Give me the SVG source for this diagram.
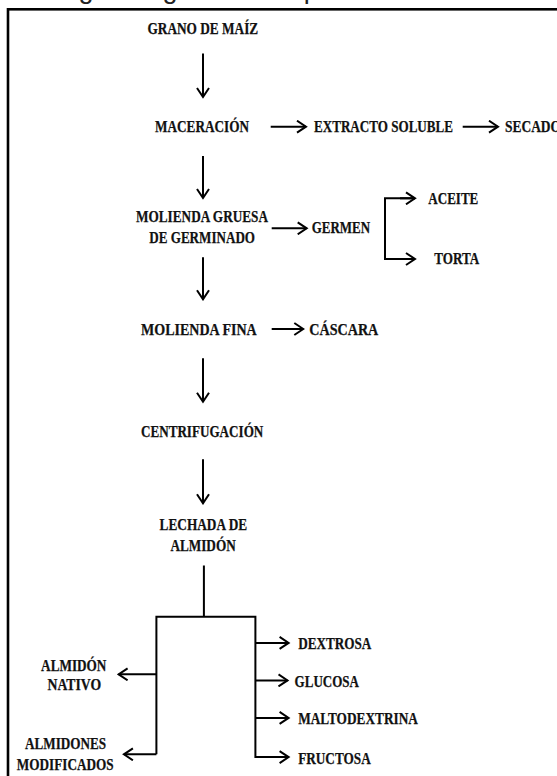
<svg xmlns="http://www.w3.org/2000/svg" width="557" height="776" viewBox="0 0 557 776">
<style>
.t{font-family:"Liberation Serif","Times New Roman",serif;font-weight:bold;font-size:16.5px;fill:#111;stroke:#111;stroke-width:0.25;}
.ttl{font-family:"Liberation Sans",Arial,sans-serif;font-size:27px;fill:#222;}
.c{stroke:#000;stroke-width:2;fill:none;}
.a{stroke:#000;stroke-width:2;fill:none;marker-end:url(#ah);}
</style>
<defs>
<marker id="ah" markerUnits="userSpaceOnUse" viewBox="0 0 12 14" markerWidth="12" markerHeight="14" refX="10" refY="7" orient="auto">
<path d="M1,1 L10,7 L1,13" fill="none" stroke="#000" stroke-width="2"/>
</marker>
</defs>
<rect width="557" height="776" fill="#fff"/>
<text class="ttl" x="38" y="-2">Diagrama general del proceso de molienda</text>
<rect x="8" y="9.3" width="600" height="800" fill="none" stroke="#000" stroke-width="2.6"/>

<g id="n-grano"><text class="t" x="147.5" y="33.5" textLength="110.7" lengthAdjust="spacingAndGlyphs">GRANO DE MAÍZ</text></g>
<g id="n-maceracion"><text class="t" x="155" y="131.5" textLength="94" lengthAdjust="spacingAndGlyphs">MACERACIÓN</text></g>
<g id="n-extracto"><text class="t" x="314" y="131.5" textLength="139" lengthAdjust="spacingAndGlyphs">EXTRACTO SOLUBLE</text></g>
<g id="n-secado"><text class="t" x="505" y="131.5" textLength="56" lengthAdjust="spacingAndGlyphs">SECADO</text></g>
<g id="n-molgruesa"><text class="t" x="136" y="222.3" textLength="132" lengthAdjust="spacingAndGlyphs">MOLIENDA GRUESA</text><text class="t" x="149.3" y="243.3" textLength="105.7" lengthAdjust="spacingAndGlyphs">DE GERMINADO</text></g>
<g id="n-germen"><text class="t" x="311.7" y="233.3" textLength="58.3" lengthAdjust="spacingAndGlyphs">GERMEN</text></g>
<g id="n-aceite"><text class="t" x="428.3" y="204" textLength="50" lengthAdjust="spacingAndGlyphs">ACEITE</text></g>
<g id="n-torta"><text class="t" x="434.3" y="264" textLength="45" lengthAdjust="spacingAndGlyphs">TORTA</text></g>
<g id="n-molfina"><text class="t" x="141" y="335" textLength="115.7" lengthAdjust="spacingAndGlyphs">MOLIENDA FINA</text></g>
<g id="n-cascara"><text class="t" x="309.3" y="335" textLength="69" lengthAdjust="spacingAndGlyphs">CÁSCARA</text></g>
<g id="n-centrif"><text class="t" x="141" y="436.7" textLength="122.3" lengthAdjust="spacingAndGlyphs">CENTRIFUGACIÓN</text></g>
<g id="n-lechada"><text class="t" x="159.6" y="530.4" textLength="87.5" lengthAdjust="spacingAndGlyphs">LECHADA DE</text><text class="t" x="170.4" y="550.7" textLength="65.3" lengthAdjust="spacingAndGlyphs">ALMIDÓN</text></g>
<g id="n-dextrosa"><text class="t" x="298.2" y="649.3" textLength="73.2" lengthAdjust="spacingAndGlyphs">DEXTROSA</text></g>
<g id="n-glucosa"><text class="t" x="294.6" y="686.8" textLength="64.3" lengthAdjust="spacingAndGlyphs">GLUCOSA</text></g>
<g id="n-malto"><text class="t" x="298.2" y="724.3" textLength="119.7" lengthAdjust="spacingAndGlyphs">MALTODEXTRINA</text></g>
<g id="n-fructosa"><text class="t" x="298.2" y="763.6" textLength="72.5" lengthAdjust="spacingAndGlyphs">FRUCTOSA</text></g>
<g id="n-nativo"><text class="t" x="41.1" y="670.7" textLength="65.3" lengthAdjust="spacingAndGlyphs">ALMIDÓN</text><text class="t" x="47.5" y="690.4" textLength="53.6" lengthAdjust="spacingAndGlyphs">NATIVO</text></g>
<g id="n-modif"><text class="t" x="25" y="748.9" textLength="81.1" lengthAdjust="spacingAndGlyphs">ALMIDONES</text><text class="t" x="16.8" y="770.4" textLength="96.8" lengthAdjust="spacingAndGlyphs">MODIFICADOS</text></g>

<g id="connectors">
<line class="a" x1="203" y1="53.6" x2="203" y2="97"/>
<line class="a" x1="270.7" y1="126.7" x2="306" y2="126.7"/>
<line class="a" x1="462.7" y1="126.7" x2="498" y2="126.7"/>
<line class="a" x1="203" y1="156" x2="203" y2="198"/>
<line class="a" x1="271.7" y1="228.3" x2="306.7" y2="228.3"/>
<path class="c" d="M415,198.3 H385 V259 H415"/>
<line class="a" x1="400" y1="198.3" x2="415" y2="198.3"/>
<line class="a" x1="400" y1="259" x2="415" y2="259"/>
<line class="a" x1="203" y1="257.3" x2="203" y2="299.3"/>
<line class="a" x1="271.7" y1="329" x2="303.3" y2="329"/>
<line class="a" x1="203" y1="358.3" x2="203" y2="401.7"/>
<line class="a" x1="203" y1="459.3" x2="203" y2="503.3"/>
<path class="c" d="M203.9,565.4 V616.8 M156.4,754.3 V616.8 H255.4 V757.9"/>
<line class="a" x1="156.4" y1="674.3" x2="118.6" y2="674.3"/>
<line class="a" x1="156.4" y1="754.3" x2="123.9" y2="754.3"/>
<line class="a" x1="255.4" y1="642.9" x2="288.6" y2="642.9"/>
<line class="a" x1="255.4" y1="680.4" x2="287.5" y2="680.4"/>
<line class="a" x1="255.4" y1="717.9" x2="288.6" y2="717.9"/>
<line class="a" x1="255.4" y1="757.1" x2="288.6" y2="757.1"/>
</g>
</svg>
